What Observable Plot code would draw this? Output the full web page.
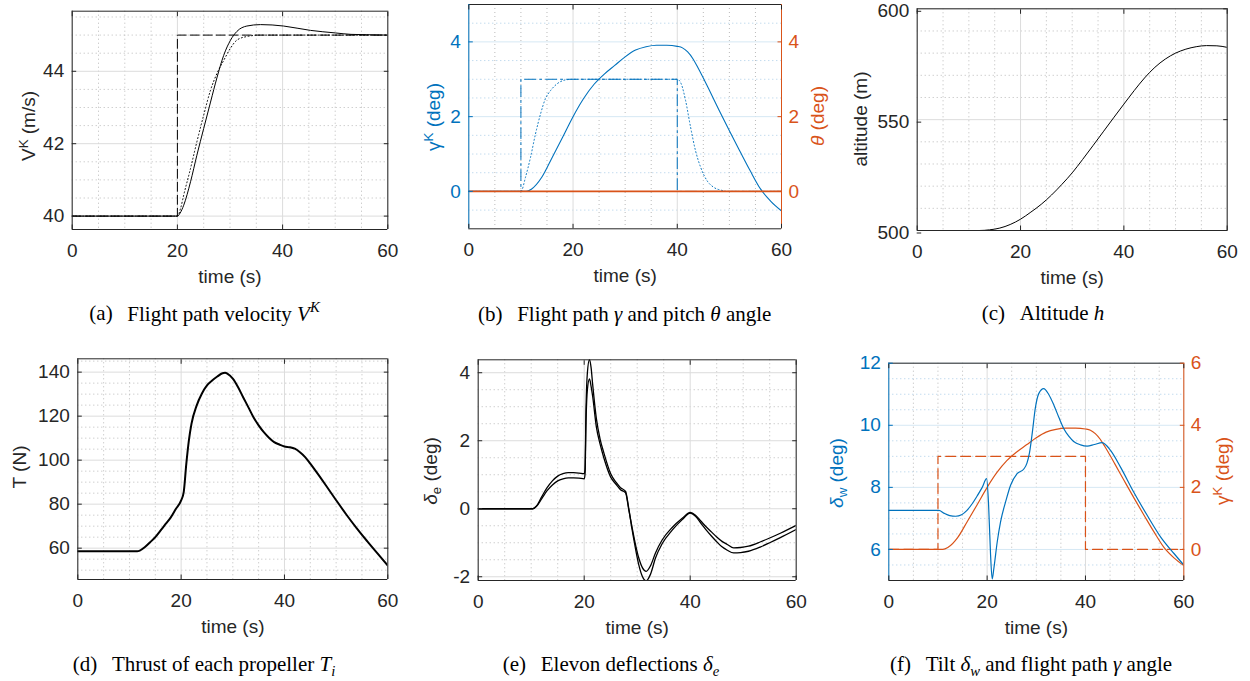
<!DOCTYPE html>
<html><head><meta charset="utf-8">
<script src="https://cdn.jsdelivr.net/npm/d3@7"></script>
<script src="https://cdn.jsdelivr.net/npm/@observablehq/plot@0.6"></script>
<style>
body{margin:0;background:#fff;}
#fig{position:relative;width:1250px;height:681px;overflow:hidden;font-family:"Liberation Sans",Arial,Helvetica,sans-serif;}
.ylab{position:absolute;transform:translate(-50%,-50%) rotate(-90deg);white-space:nowrap;font-size:19px;color:#262626;}
.cap{position:absolute;transform:translate(-50%,-50%);white-space:nowrap;font-family:"Liberation Serif","Times New Roman",serif;font-size:21px;color:#000;}
.cap .lab{margin-right:0.7em;}
.sup{font-size:0.7em;vertical-align:0.55em;}
.sub{font-size:0.7em;vertical-align:-0.3em;}
</style></head><body><div id="fig"></div>
<script>
// ---------- data ----------
// (a) flight path velocity
const a_t    = [0, 20, 20.5, 21.2, 22.5, 23.7, 25, 26.3, 27.55, 28.8, 30.1, 31.3, 33.2, 35.8, 38, 40.2, 45.3, 50, 53, 56, 60];
const a_vk   = [40, 40, 40.08, 40.3, 40.95, 41.68, 42.42, 43.15, 43.84, 44.44, 44.86, 45.1, 45.25, 45.29, 45.28, 45.25, 45.13, 45.06, 45.02, 45.01, 45.0];
const a_ref_t = [0, 20, 20.6, 21.2, 22.5, 23.7, 25, 26.3, 27.55, 28.8, 30.1, 31.3, 33.2, 35.8, 60];
const a_ref   = [40, 40, 40.21, 40.58, 41.32, 42.05, 42.79, 43.48, 43.95, 44.3, 44.64, 44.86, 44.96, 45.0, 45.0];
const a_cmd_t = [0, 20, 20, 60];
const a_cmd   = [40, 40, 45, 45];
const a_yticks = [40, 42, 44];

// (b) flight path angle gamma (also used in f) and pitch theta
const g_t = [0, 11, 12, 14, 16, 18, 20, 22, 24, 26, 28, 30, 32, 34, 36, 38, 40, 41, 42, 43, 44, 46, 48, 50, 52, 54, 56, 58, 60];
const g_v = [0, 0, 0.06, 0.38, 0.91, 1.45, 2.0, 2.48, 2.86, 3.14, 3.37, 3.6, 3.78, 3.87, 3.91, 3.91, 3.88, 3.84, 3.73, 3.55, 3.3, 2.75, 2.18, 1.62, 1.08, 0.55, 0.06, -0.27, -0.52];
const b_ref_t = [0, 10, 10.88, 11.84, 12.8, 13.76, 14.7, 15.7, 16.95, 18.9, 20, 40, 40.75, 41.6, 42.55, 43.5, 44.5, 45.7, 47, 48.5, 49.6, 60];
const b_ref   = [0, 0, 0.38, 0.91, 1.54, 2.07, 2.48, 2.7, 2.88, 2.99, 3, 3, 2.88, 2.43, 1.72, 1.09, 0.64, 0.29, 0.11, 0.03, 0, 0];
const cmd_t = [0, 10, 10, 40, 40, 60];
const cmd_v = [0, 0, 3, 3, 0, 0];
const theta_t = [0, 60];
const theta_v = [0, 0];
const b_yticks = [0, 2, 4];

// (c) altitude
const h_t = [0, 12, 14, 16, 18, 20, 22, 24, 26, 28, 30, 32, 34, 36, 38, 40, 42, 44, 46, 48, 50, 52, 54, 56, 58, 60];
const h_v = [500, 500, 500.3, 501.1, 502.7, 505.1, 508.3, 511.8, 516.0, 520.8, 526, 532, 538.2, 544.5, 550.8, 557, 563.1, 568.8, 573.6, 577.3, 580, 581.8, 582.9, 583.4, 583.3, 582.6];
const c_yticks = [500, 550, 600];

// (d) thrust
const T_t = [0, 11.5, 12, 13, 14, 15, 16, 17, 18, 19, 20, 20.5, 21, 21.5, 22, 23, 24, 25, 26, 27, 28, 28.5, 29, 30, 31, 32, 33, 34, 35, 36, 37, 38, 39, 40, 41, 42, 43, 44, 45, 46, 48, 50, 52, 54, 56, 58, 60];
const T_v = [58.6, 58.6, 58.9, 60.5, 62.7, 65, 68, 71, 74, 77.9, 81.7, 85.5, 98.3, 109, 116.5, 124.8, 130.2, 134, 136.2, 138, 139.5, 139.7, 139.2, 137, 133.2, 128.6, 124.1, 119.5, 115.8, 112.7, 110.2, 108.2, 107.1, 106.2, 105.9, 105.2, 103.6, 101.4, 98.4, 95.2, 88.6, 81.8, 75.2, 69.0, 63.2, 57.6, 52.1];
const d_yticks = [60, 80, 100, 120, 140];

// (e) elevon deflections
const e_t = [0, 10.3, 11, 12, 13, 14, 15, 16, 17, 18, 19, 20, 20.15, 20.35, 20.6, 21, 21.3, 21.6, 22.3, 23, 23.7, 25, 26, 26.85, 27.8, 28.4, 29, 29.5, 30.3, 31, 31.7, 32.5, 33.45, 34.7, 36.6, 38.5, 40, 41, 42, 43, 44, 45, 46, 47, 48.2, 49.5, 51, 53.3, 55, 57, 60];
const e_A = [0, 0, 0.08, 0.36, 0.62, 0.82, 0.96, 1.03, 1.06, 1.06, 1.05, 1.03, 1.15, 3.0, 4.0, 4.39, 4.15, 3.65, 2.65, 2.05, 1.65, 1.03, 0.78, 0.62, 0.51, 0.02, -0.58, -1.02, -1.65, -2.0, -2.12, -1.93, -1.45, -1.03, -0.63, -0.32, -0.13, -0.22, -0.42, -0.62, -0.8, -0.97, -1.12, -1.22, -1.3, -1.29, -1.25, -1.12, -1.0, -0.85, -0.61];
const e_B = [0, 0, 0.07, 0.3, 0.53, 0.7, 0.82, 0.88, 0.91, 0.91, 0.9, 0.88, 1.0, 2.6, 3.5, 3.82, 3.6, 3.3, 2.4, 1.9, 1.5, 0.93, 0.72, 0.56, 0.47, -0.02, -0.52, -0.92, -1.45, -1.74, -1.84, -1.68, -1.3, -0.92, -0.55, -0.28, -0.11, -0.19, -0.36, -0.53, -0.68, -0.83, -0.96, -1.05, -1.15, -1.14, -1.1, -0.97, -0.86, -0.72, -0.49];
const e_yticks = [-2, 0, 2, 4];

// (f) tilt angle delta_w
const w_t = [0, 10.2, 11.2, 12.4, 13.6, 14.8, 15.9, 17, 18, 19, 19.9, 20.3, 20.7, 21.03, 21.37, 22.05, 22.73, 23.75, 24.77, 26.1, 27.5, 28.1, 28.6, 29.2, 29.8, 30.5, 31.5, 32.5, 33.6, 34.6, 35.6, 36.6, 37.6, 39, 40.35, 41.8, 43.4, 45.1, 47.1, 49.8, 52.55, 55.3, 58, 60];
const w_v = [7.26, 7.26, 7.17, 7.09, 7.07, 7.12, 7.26, 7.48, 7.73, 8.0, 8.28, 7.42, 5.82, 5.05, 5.39, 6.24, 6.89, 7.53, 8.07, 8.44, 8.6, 8.78, 9.1, 9.78, 10.55, 11.02, 11.18, 11.0, 10.64, 10.25, 9.89, 9.65, 9.48, 9.37, 9.33, 9.38, 9.44, 9.19, 8.66, 7.85, 7.1, 6.4, 5.87, 5.5];
const f_yticks = [6, 8, 10, 12];
const f_rticks = [0, 2, 4, 6];
const F_OFFSET = 6; // right axis (gamma) = left axis (delta_w) - 6

const xTicks = [0, 20, 40, 60];

// ---------- style ----------
const BLUE = "#0072BD", ORANGE = "#D95319", INK = "#262626";
const GRID = "#dcdcdc", MINOR = "#bababa", GRID_B = "#d6e8f4", MINOR_B = "#a9cce7";
const FONT = '"Liberation Sans", Arial, Helvetica, sans-serif';
const fig = document.getElementById("fig");

const pts = (t, v, off = 0) => t.map((d, i) => ({t: d, v: v[i] + off}));
const minorOf = (lo, hi, step, majors) =>
  d3.range(Math.ceil(lo / step) * step, hi + 1e-9, step)
    .map(d => +d.toFixed(6)).filter(d => d > lo && d < hi && !majors.some(m => Math.abs(m - d) < 1e-9));
const xMinor = minorOf(0, 60, 5, xTicks);

function panel(cfg) {
  const {box, frame, ydomain, yticks, ystep, marks, leftColor = INK, rightColor = INK,
         rticksAt = null, rformat = null, hGrid = GRID, hMinor = MINOR, yTextDy = 0} = cfg;
  const [sx, sy, W, H] = box;
  const [L, T, R, B] = frame;
  const yMinor = minorOf(ydomain[0], ydomain[1], ystep, yticks);
  const m = [
    Plot.gridX(xMinor, {stroke: MINOR, strokeOpacity: 1, strokeDasharray: "1,3"}),
    Plot.gridY(yMinor, {stroke: hMinor, strokeOpacity: 1, strokeDasharray: "1,3"}),
    Plot.gridX(xTicks, {stroke: GRID, strokeOpacity: 1}),
    Plot.gridY(yticks, {stroke: hGrid, strokeOpacity: 1}),
    ...marks,
    Plot.ruleY([ydomain[0]], {stroke: INK}),
    Plot.ruleY([ydomain[1]], {stroke: INK}),
    Plot.ruleX([0], {stroke: leftColor}),
    Plot.ruleX([60], {stroke: rightColor}),
    Plot.axisX(xTicks, {anchor: "bottom", tickSize: -4.5, tickPadding: 18.5, fontSize: 19, color: INK, label: null, tickFormat: d => String(d)}),
    Plot.axisX(xTicks, {anchor: "top", tickSize: -4.5, tickPadding: 0, color: INK, label: null, tickFormat: () => ""}),
    Plot.axisY(yticks, {anchor: "left", tickSize: -4.5, tickPadding: 12.5, fontSize: 19, color: leftColor, label: null, dy: yTextDy, tickFormat: d => String(d)}),
    Plot.axisY(rticksAt || yticks, {anchor: "right", tickSize: -4.5, tickPadding: rformat ? 11.5 : 0, fontSize: 19, color: rightColor, label: null, tickFormat: rformat || (() => "")}),
    Plot.text(["time (s)"], {frameAnchor: "bottom", dy: 47, lineAnchor: "middle", fontSize: 19, fill: INK})
  ];
  const svg = Plot.plot({
    width: W, height: H,
    marginLeft: L - sx, marginTop: T - sy, marginRight: sx + W - R, marginBottom: sy + H - B,
    x: {domain: [0, 60]}, y: {domain: ydomain},
    style: {background: "transparent", overflow: "visible", fontFamily: FONT, color: INK},
    marks: m
  });
  svg.style.position = "absolute";
  svg.style.left = sx + "px";
  svg.style.top = sy + "px";
  fig.appendChild(svg);
}

// (a)
panel({
  box: [0, 0, 410, 300], frame: [71.7, 10.7, 387.3, 229], ydomain: [39.63, 45.66], yticks: a_yticks, ystep: 0.5,
  marks: [
    Plot.line(pts(a_cmd_t, a_cmd), {x: "t", y: "v", stroke: "#000", strokeWidth: 1, strokeDasharray: "9,4", clip: true}),
    Plot.line(pts(a_ref_t, a_ref), {x: "t", y: "v", stroke: "#000", strokeWidth: 1, strokeDasharray: "1,2.5", curve: "monotone-x", clip: true}),
    Plot.line(pts(a_t, a_vk), {x: "t", y: "v", stroke: "#000", strokeWidth: 1, curve: "monotone-x", clip: true})
  ]
});
// (b)
panel({
  box: [410, 0, 420, 300], frame: [468.3, 4, 781, 228.3], ydomain: [-1, 5], yticks: b_yticks, ystep: 0.5,
  leftColor: BLUE, rightColor: ORANGE, rticksAt: b_yticks, rformat: d => String(d), hGrid: GRID_B, hMinor: MINOR_B,
  marks: [
    Plot.line(pts(cmd_t, cmd_v), {x: "t", y: "v", stroke: BLUE, strokeWidth: 1, strokeDasharray: "11,4,2,4", clip: true}),
    Plot.line(pts(b_ref_t, b_ref), {x: "t", y: "v", stroke: BLUE, strokeWidth: 1, strokeDasharray: "1,2.5", curve: "monotone-x", clip: true}),
    Plot.line(pts(g_t, g_v), {x: "t", y: "v", stroke: BLUE, strokeWidth: 1.1, curve: "monotone-x", clip: true}),
    Plot.line(pts(theta_t, theta_v), {x: "t", y: "v", stroke: ORANGE, strokeWidth: 1.7, clip: true})
  ]
});
// (c)
panel({
  box: [830, 0, 420, 300], frame: [916.7, 8.3, 1226.7, 230], ydomain: [500, 600], yticks: c_yticks, ystep: 10, yTextDy: 2.5,
  marks: [
    Plot.line(pts(h_t, h_v), {x: "t", y: "v", stroke: "#000", strokeWidth: 1, curve: "monotone-x", clip: true})
  ]
});
// (d)
panel({
  box: [0, 340, 410, 300], frame: [77.3, 358.3, 387.3, 579], ydomain: [45.76, 146.06], yticks: d_yticks, ystep: 5,
  marks: [
    Plot.line(pts(T_t, T_v), {x: "t", y: "v", stroke: "#000", strokeWidth: 2, curve: "monotone-x", clip: true})
  ]
});
// (e)
panel({
  box: [410, 340, 420, 300], frame: [477.7, 359.3, 795.7, 580], ydomain: [-2.11, 4.38], yticks: e_yticks, ystep: 0.5,
  marks: [
    Plot.line(pts(e_t, e_A), {x: "t", y: "v", stroke: "#000", strokeWidth: 1.3, curve: "monotone-x", clip: true}),
    Plot.line(pts(e_t, e_B), {x: "t", y: "v", stroke: "#000", strokeWidth: 1.3, curve: "monotone-x", clip: true})
  ]
});
// (f)
panel({
  box: [830, 340, 420, 300], frame: [888.3, 362.7, 1183.3, 580], ydomain: [5, 12], yticks: f_yticks, ystep: 0.5,
  leftColor: BLUE, rightColor: ORANGE, rticksAt: f_rticks.map(d => d + F_OFFSET), rformat: d => String(d - F_OFFSET),
  hGrid: GRID_B, hMinor: MINOR_B,
  marks: [
    Plot.line(pts(cmd_t, cmd_v, F_OFFSET), {x: "t", y: "v", stroke: ORANGE, strokeWidth: 1.2, strokeDasharray: "10,5", clip: true}),
    Plot.line(pts(g_t, g_v, F_OFFSET), {x: "t", y: "v", stroke: ORANGE, strokeWidth: 1.2, curve: "monotone-x", clip: true}),
    Plot.line(pts(w_t, w_v), {x: "t", y: "v", stroke: BLUE, strokeWidth: 1.2, curve: "monotone-x", clip: true})
  ]
});

// ---------- HTML labels ----------
const labels = [
  {x: 28, y: 126, html: 'V<span class="sup">K</span> (m/s)', color: INK},
  {x: 433, y: 117, html: 'γ<span class="sup">K</span> (deg)', color: BLUE},
  {x: 818, y: 116, html: '<i>θ</i> (deg)', color: ORANGE},
  {x: 861, y: 119, html: 'altitude (m)', color: INK},
  {x: 20, y: 467, html: 'T (N)', color: INK},
  {x: 432, y: 471, html: '<i>δ</i><span class="sub">e</span> (deg)', color: INK},
  {x: 838, y: 473, html: '<i>δ</i><span class="sub">w</span> (deg)', color: BLUE},
  {x: 1222, y: 471, html: 'γ<span class="sup">K</span> (deg)', color: ORANGE}
];
for (const l of labels) {
  const d = document.createElement("div");
  d.className = "ylab";
  d.style.left = l.x + "px"; d.style.top = l.y + "px"; d.style.color = l.color;
  d.innerHTML = l.html;
  fig.appendChild(d);
}
const captions = [
  {x: 204.5, y: 313, html: '<span class="lab">(a)</span>Flight path velocity <i>V</i><span class="sup"><i>K</i></span>'},
  {x: 624.7, y: 314, html: '<span class="lab">(b)</span>Flight path <i>γ</i> and pitch <i>θ</i> angle'},
  {x: 1043, y: 313, html: '<span class="lab">(c)</span>Altitude <i>h</i>'},
  {x: 204, y: 666, html: '<span class="lab">(d)</span>Thrust of each propeller <i>T</i><span class="sub"><i>i</i></span>'},
  {x: 611, y: 666, html: '<span class="lab">(e)</span>Elevon deflections <i>δ</i><span class="sub"><i>e</i></span>'},
  {x: 1031, y: 666, html: '<span class="lab">(f)</span>Tilt <i>δ</i><span class="sub"><i>w</i></span> and flight path <i>γ</i> angle'}
];
for (const c of captions) {
  const d = document.createElement("div");
  d.className = "cap";
  d.style.left = c.x + "px"; d.style.top = c.y + "px";
  d.innerHTML = c.html;
  fig.appendChild(d);
}
</script>
</body></html>
